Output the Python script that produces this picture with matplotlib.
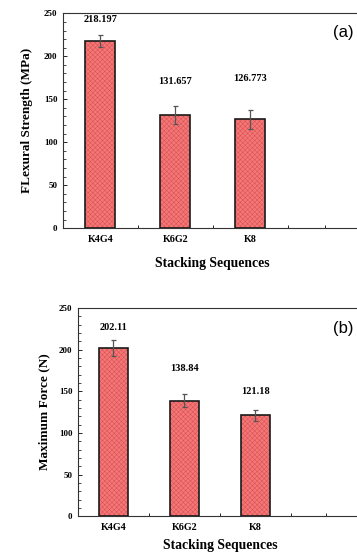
import matplotlib.pyplot as plt
from matplotlib.ticker import MultipleLocator, FixedLocator

plt.rcParams['font.family'] = ['Liberation Serif', 'DejaVu Serif']
plt.rcParams['font.weight'] = 'bold'
plt.rcParams['hatch.linewidth'] = 0.3

# data
categories = ['K4G4', 'K6G2', 'K8']
flexural = [218.197, 131.657, 126.773]
flexural_err = [7, 10, 11]
flexural_lbl = ['218.197', '131.657', '126.773']
flexural_lbl_y = [243, 171, 174]

force = [202.11, 138.84, 121.18]
force_err = [10, 7.5, 6.5]
force_lbl = ['202.11', '138.84', '121.18']
force_lbl_y = [227, 177, 150]

face = '#f27878'
hatch_col = '#d9474a'

fig = plt.figure(figsize=(3.57, 5.55), dpi=100)


def panel(rect, vals, errs, lbls, lbl_y, ylabel, tag, xpad, ypad):
    ax = fig.add_axes(rect)
    x = list(range(len(categories)))
    ax.bar(x, vals, width=0.4, color=face, edgecolor=hatch_col, hatch='xxxxxxx',
           linewidth=0, zorder=2)
    ax.bar(x, vals, width=0.4, fill=False, edgecolor='#1a1a1a', linewidth=1.2, zorder=3)
    ax.errorbar(x, vals, yerr=errs, fmt='none', ecolor='#555555', elinewidth=0.9,
                capsize=1.8, capthick=0.9, zorder=4)
    for xi, t, yy in zip(x, lbls, lbl_y):
        ax.text(xi, yy, t, ha='center', va='center', fontsize=7.5, fontweight='bold')
    ax.set_xlim(-0.5, 3.5)
    ax.set_ylim(0, 250)
    ax.set_xticks(x)
    ax.set_xticklabels(categories, fontsize=7.3, fontweight='bold')
    ax.tick_params(axis='x', which='major', length=0, pad=5)
    ax.xaxis.set_minor_locator(FixedLocator([0.5, 1.5, 2.5, 3.0]))
    ax.tick_params(axis='x', which='minor', direction='in', length=2.5, width=0.6)
    ax.yaxis.set_major_locator(MultipleLocator(50))
    ax.yaxis.set_minor_locator(MultipleLocator(10))
    ax.tick_params(axis='y', which='major', direction='in', length=3, width=0.6,
                   labelsize=6.5, pad=4)
    ax.tick_params(axis='y', which='minor', direction='in', length=1.8, width=0.5)
    for lab in ax.get_yticklabels():
        lab.set_fontweight('bold')
    for s in ax.spines.values():
        s.set_color('#333333')
        s.set_linewidth(0.8)
    ax.set_xlabel('Stacking Sequences', fontsize=9.8, fontweight='bold', labelpad=xpad)
    ax.set_ylabel(ylabel, fontsize=9.5, fontweight='bold', labelpad=ypad)
    fig.text(343 / 357, 1 - tag[1] / 555, tag[0], fontsize=12, fontweight='normal',
             family=['Liberation Sans', 'DejaVu Sans'], ha='center', va='center')
    return ax


panel([0.176, 0.589, 0.84, 0.387], flexural, flexural_err, flexural_lbl, flexural_lbl_y,
      'FLexural Strength (MPa)', ('(a)', 33), 9, 8)
panel([0.218, 0.070, 0.796, 0.375], force, force_err, force_lbl, force_lbl_y,
      'Maximum Force (N)', ('(b)', 328), 5, 6)

fig.savefig('out.png', dpi=100)
